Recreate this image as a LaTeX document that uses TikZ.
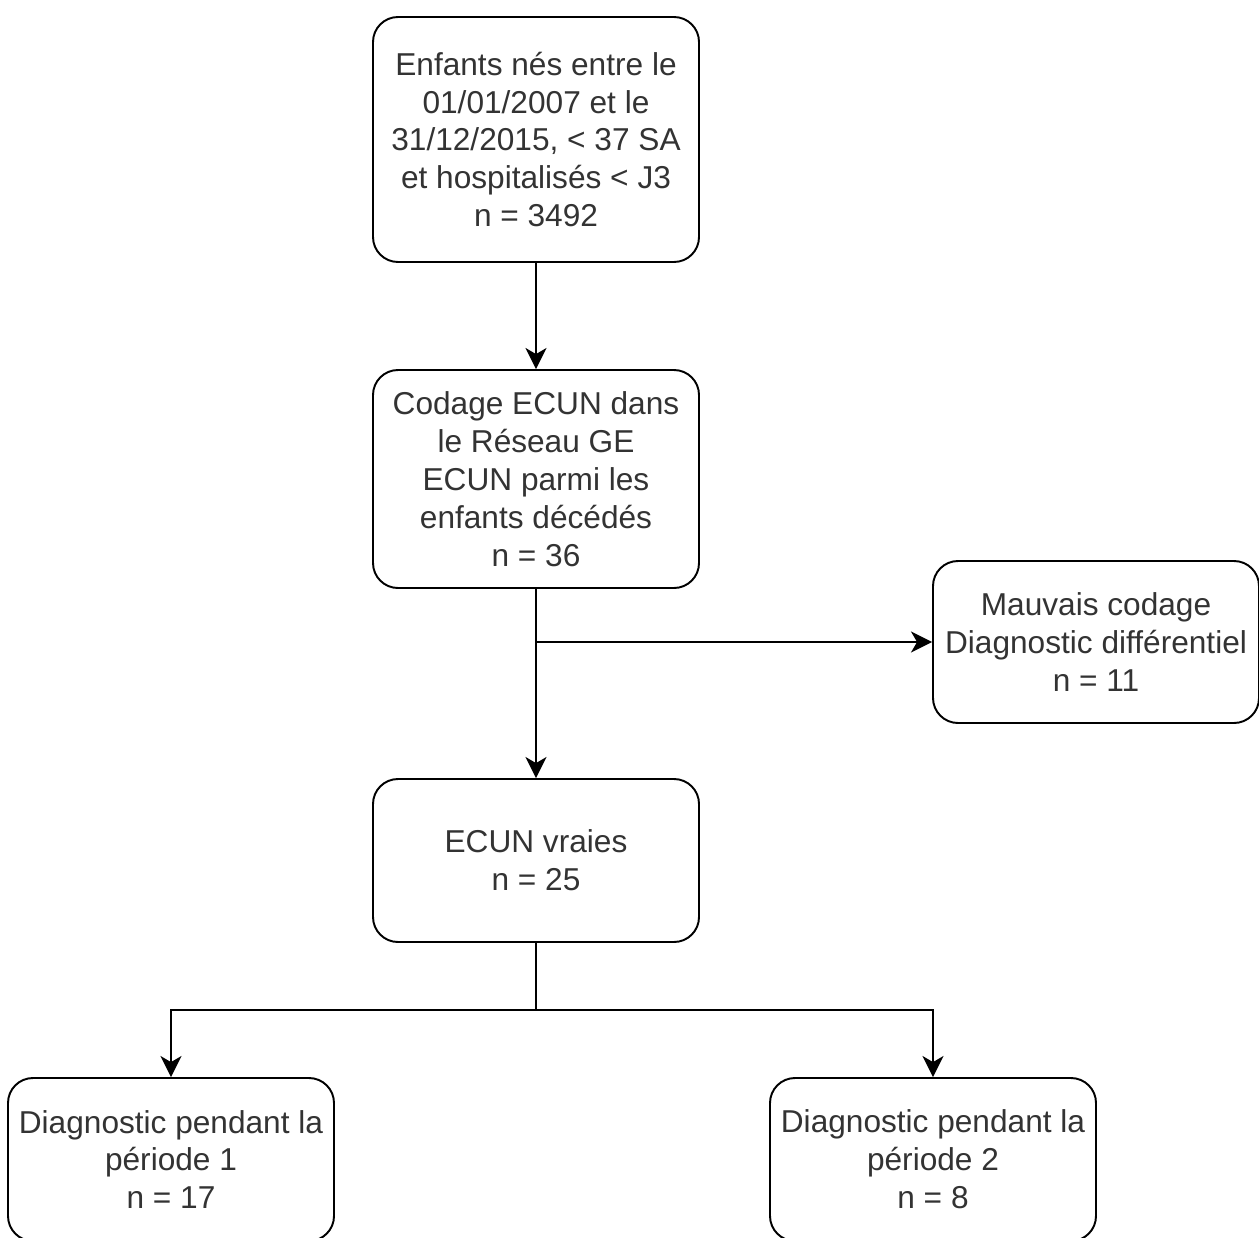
\documentclass[tikz,border=0pt]{standalone}
\usepackage{fontspec}
\setmainfont{Liberation Sans}
\usetikzlibrary{arrows.meta}
\begin{document}
\begin{tikzpicture}
    \tikzstyle{box} = [draw, line width=1.1pt, rounded corners=0.5cm, minimum width=6.52cm, align=center, text=black!80, font=\fontsize{18}{21.6}\selectfont, inner sep=0pt]
    \tikzstyle{arrow} = [line width=1.1pt, -{Stealth[length=12pt, width=12pt, inset=3.5pt]}]
    \useasboundingbox (0,0) rectangle (25.18,-24.74);

    % Top box
    \node [box, minimum height=4.9cm] (Born) at (10.72,-2.79) {Enfants nés entre le\\01/01/2007 et le\\31/12/2015, < 37 SA\\et hospitalisés < J3\\n = 3492};

    % Second box
    \node [box, minimum height=4.36cm] (Coded) at (10.72,-9.58) {Codage ECUN dans\\le Réseau GE\\ECUN parmi les\\enfants décédés\\n = 36};
    \draw [arrow] (Born) -- (Coded);

    % Right box
    \node [box, minimum height=3.24cm] (Wrong) at (21.92,-12.84) {Mauvais codage\\Diagnostic différentiel\\n = 11};

    % Middle box
    \node [box, minimum height=3.26cm] (True) at (10.72,-17.21) {ECUN vraies\\n = 25};
    \draw [arrow] (Coded) -- (True);
    \coordinate (Fork) at (Coded.south |- Wrong.west);
    \draw [arrow] (Fork) -- (Wrong);

    % Bottom left box
    \node [box, minimum height=3.26cm] (PeriodOne) at (3.42,-23.19) {Diagnostic pendant la\\période 1\\n = 17};

    % Bottom right box
    \node [box, minimum height=3.26cm] (PeriodTwo) at (18.66,-23.19) {Diagnostic pendant la\\période 2\\n = 8};

    \coordinate (Split) at (10.72,-20.2);
    \draw [line width=1.1pt] (True) -- (Split);
    \draw [arrow] (Split) -| (PeriodOne);
    \draw [arrow] (Split) -| (PeriodTwo);
\end{tikzpicture}
\end{document}
